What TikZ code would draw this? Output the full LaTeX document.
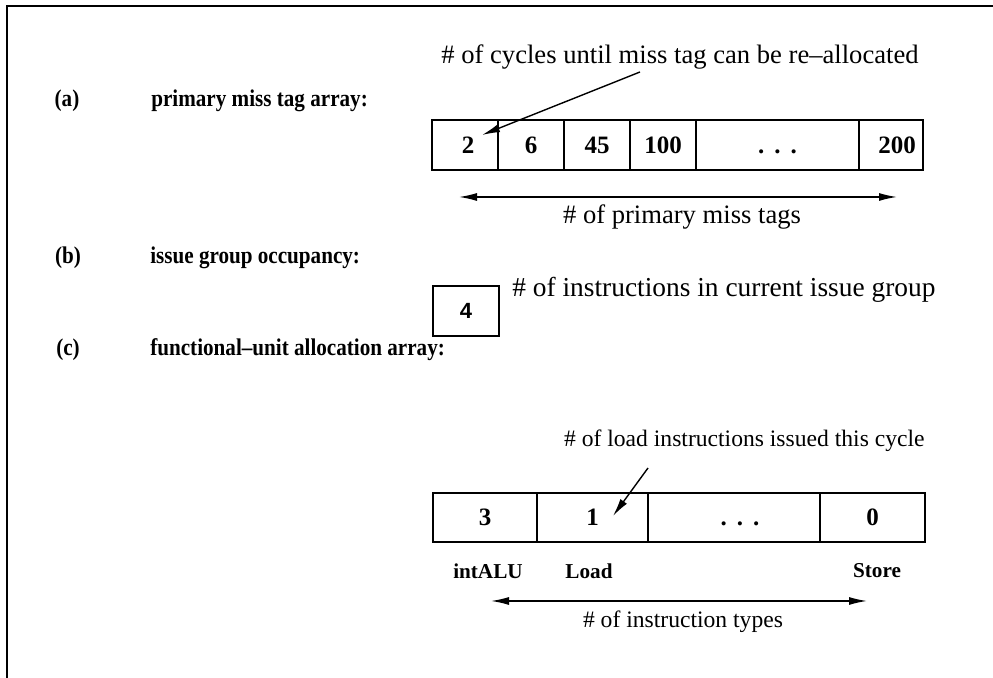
\documentclass[tikz,border=0pt]{standalone}
\usepackage{fontspec}
\setmainfont{Liberation Serif}
\newfontfamily\digitfont{Liberation Sans}
\usetikzlibrary{arrows.meta}
\begin{document}
\begin{tikzpicture}[x=0.5pt,y=-0.5pt,
  frame/.style={line width=0.8pt},
  cell/.style={draw, line width=0.9pt, inner sep=0pt, anchor=center,
    font=\bfseries\fontsize{12.5}{12.5}\selectfont},
  heading/.style={inner sep=0pt, xscale=0.88, font=\bfseries\fontsize{12}{12}\selectfont},
  tag/.style={inner sep=0pt, font=\bfseries\fontsize{10.6}{10.6}\selectfont},
  note/.style={inner sep=0pt, font=\fontsize{13.3}{13.3}\selectfont},
  smallnote/.style={inner sep=0pt, font=\fontsize{11.8}{11.8}\selectfont},
  pointer/.style={line width=0.7pt, -{Latex[length=9pt,width=4pt]}},
  span/.style={line width=0.7pt, {Latex[length=9pt,width=4pt]}-{Latex[length=9pt,width=4pt]}}]
\useasboundingbox (0,0) rectangle (993,678);

% open frame: top and left edges only
\draw[frame] (7,678) -- (7,6) -- (993,6);

% ---- (a) primary miss tag array
\node[heading] (la) at (67,101) {(a)};
\node[heading, anchor=west] (ta) at (151,101) {primary miss tag array:};
\node[cell, minimum width=33pt, minimum height=25pt] (a1) at (465,145) {\hspace{3pt}2};
\node[cell, minimum width=33pt, minimum height=25pt] (a2) at (531,145) {6};
\node[cell, minimum width=33pt, minimum height=25pt] (a3) at (597,145) {45};
\node[cell, minimum width=33pt, minimum height=25pt] (a4) at (663,145) {100};
\node[cell, minimum width=81.5pt, minimum height=25pt] (a5) at (777.5,145) {\vphantom{0}.\hspace{5pt}.\hspace{5pt}.};
\node[cell, minimum width=32pt, minimum height=25pt] (a6) at (891,145) {\hspace{6pt}200};
\node[note] (na) at (680,57) {\# of cycles until miss tag can be re--allocated};
\coordinate (na-from) at (640,72);
\coordinate (na-to) at (482,135);
\draw[pointer] (na-from) -- (na-to);
\coordinate (sa-l) at (459,197);
\coordinate (sa-r) at (897,197);
\draw[span] (sa-l) -- (sa-r);
\node[note] (sa) at (682,217) {\# of primary miss tags};

% ---- (b) issue group occupancy
\node[heading] (lb) at (68,258) {(b)};
\node[heading, anchor=west] (tb) at (150,258) {issue group occupancy:};
\node[draw, line width=0.9pt, minimum width=33pt, minimum height=25pt, inner sep=0pt,
  font=\digitfont\bfseries\fontsize{11}{11}\selectfont] (b1) at (466,311) {4};
\node[inner sep=0pt, anchor=west, font=\fontsize{13.7}{13.7}\selectfont] (nb) at (512,290)
  {\# of instructions in current issue group};

% ---- (c) functional-unit allocation array
\node[heading] (lc) at (68,350) {(c)};
\node[heading, anchor=west] (tc) at (150,350) {functional--unit allocation array:};
\node[cell, minimum width=52pt, minimum height=24.5pt] (c1) at (485,517.5) {3\hspace{8pt}};
\node[cell, minimum width=55.5pt, minimum height=24.5pt] (c2) at (592.5,517.5) {1};
\node[cell, minimum width=86pt, minimum height=24.5pt] (c3) at (734,517.5) {\vphantom{0}\hspace{6pt}.\hspace{5pt}.\hspace{5pt}.};
\node[cell, minimum width=52.5pt, minimum height=24.5pt] (c4) at (872.5,517.5) {0};
\node[smallnote, anchor=east] (nc) at (925,441) {\# of load instructions issued this cycle};
\coordinate (nc-from) at (648,468);
\coordinate (nc-to) at (613,516);
\draw[pointer] (nc-from) -- (nc-to);
\node[tag] (k1) at (488,571) {intALU};
\node[tag] (k2) at (589,571) {Load};
\node[tag] (k3) at (877,571) {Store};
\coordinate (sc-l) at (491,601);
\coordinate (sc-r) at (867,601);
\draw[span] (sc-l) -- (sc-r);
\node[smallnote] (sc) at (683,622) {\# of instruction types};
\end{tikzpicture}
\end{document}
